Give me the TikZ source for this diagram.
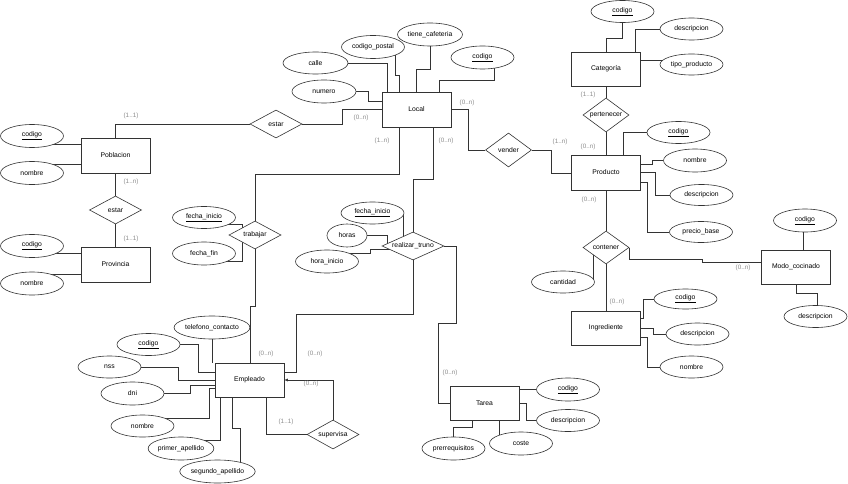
\documentclass[tikz,border=0pt]{standalone}
\usepackage{fontspec}
\setmainfont{Liberation Sans}
\usetikzlibrary{shapes.geometric,arrows.meta}
\pgfdeclarelayer{bg}
\pgfsetlayers{bg,main}
\begin{document}
\begin{tikzpicture}[x=1pt,y=-1pt,
  font=\fontsize{6.8}{8}\selectfont,
  ent/.style={draw=black!80,fill=white,rectangle,minimum width=69pt,minimum height=35pt,inner sep=0pt,line width=0.6pt},
  rel/.style={draw=black!80,fill=white,diamond,inner sep=0pt,line width=0.6pt},
  attr/.style={draw=black!80,fill=white,ellipse,minimum width=63pt,minimum height=23pt,inner sep=0pt,line width=0.6pt},
  card/.style={text=black!45,font=\fontsize{6.3}{7}\selectfont,inner sep=0pt},
  conn/.style={draw=black!80,line width=0.6pt}]
\useasboundingbox (0,0) rectangle (848,484);
% entities
\node[ent] (Poblacion) at (115.5,155.5) {Poblacion};
\node[ent] (Provincia) at (115.5,264.5) {Provincia};
\node[ent] (Local) at (416.5,109.5) {Local};
\node[ent,minimum height=34pt] (Categoria) at (606,69) {Categoría};
\node[ent] (Producto) at (606,172.5) {Producto};
\node[ent,minimum height=34pt] (Ingrediente) at (606,328) {Ingrediente};
\node[ent,minimum height=34pt] (Modo) at (796,267) {Modo\_cocinado};
\node[ent,minimum height=34pt] (Empleado) at (249.5,380) {Empleado};
\node[ent,minimum height=34pt] (Tarea) at (484.5,403) {Tarea};
% relationships
\node[rel,minimum width=52pt,minimum height=28pt] (estar1) at (276,124) {\makebox[0pt]{estar}};
\node[rel,minimum width=52pt,minimum height=28pt] (estar2) at (115.5,210) {\makebox[0pt]{estar}};
\node[rel,minimum width=46pt,minimum height=34pt] (vender) at (508.5,150) {\makebox[0pt]{vender}};
\node[rel,minimum width=46pt,minimum height=34pt] (pertenecer) at (606,115) {\makebox[0pt]{pertenecer}};
\node[rel,minimum width=46pt,minimum height=33pt] (contener) at (606,247.5) {\makebox[0pt]{contener}};
\node[rel,minimum width=52pt,minimum height=28pt] (trabajar) at (255,235) {\makebox[0pt]{trabajar}};
\node[rel,minimum width=62pt,minimum height=28pt] (realizar) at (413,246) {\makebox[0pt]{realizar\_truno}};
\node[rel,minimum width=52pt,minimum height=29pt] (supervisa) at (333,434.5) {\makebox[0pt]{supervisa}};
% attributes
\node[attr] (pobcod) at (32,136) {\underline{codigo}};
\node[attr] (pobnom) at (32,173) {nombre};
\node[attr] (provcod) at (32,246) {\underline{codigo}};
\node[attr] (provnom) at (32,283.5) {nombre};
\node[attr,minimum width=65pt,minimum height=22pt] (calle) at (315.5,63) {calle};
\node[attr,minimum width=64pt] (numero) at (324,91.5) {numero};
\node[attr] (cpostal) at (373,47) {codigo\_postal};
\node[attr,minimum width=65pt] (tcafe) at (430,34.5) {tiene\_cafeteria};
\node[attr] (loccod) at (482.5,57.5) {\underline{codigo}};
\node[attr,minimum height=22pt] (catcod) at (622.5,11.5) {\underline{codigo}};
\node[attr,minimum height=22pt] (catdesc) at (691.5,29) {descripcion};
\node[attr,minimum height=21pt] (tipo) at (691.5,64.5) {tipo\_producto};
\node[attr,minimum height=22pt] (prodcod) at (678.5,132.5) {\underline{codigo}};
\node[attr] (prodnom) at (695,160.5) {nombre};
\node[attr,minimum height=21pt] (proddesc) at (701.5,195) {descripcion};
\node[attr,minimum height=21pt] (precio) at (701,232) {precio\_base};
\node[attr,minimum height=22pt] (cantidad) at (563,282) {cantidad};
\node[attr] (modocod) at (805,220.5) {\underline{codigo}};
\node[attr,minimum height=22pt] (mododesc) at (815.5,316.5) {descripcion};
\node[attr,minimum height=20pt] (ingcod) at (685.5,299) {\underline{codigo}};
\node[attr,minimum height=22pt] (ingdesc) at (697.5,334) {descripcion};
\node[attr,minimum height=22pt] (ingnom) at (691.5,367) {nombre};
\node[attr,minimum height=22pt] (trfi) at (204,217.5) {\underline{fecha\_inicio}};
\node[attr] (trff) at (204,253.5) {fecha\_fin};
\node[attr,minimum height=22pt] (rtfi) at (372.5,213) {\underline{fecha\_inicio}};
\node[attr,minimum width=40pt] (horas) at (347,235.5) {horas};
\node[attr] (horaini) at (327,261.5) {hora\_inicio};
\node[attr] (tel) at (212,327.5) {telefono\_contacto};
\node[attr,minimum height=22pt] (empcod) at (148.5,344.5) {\underline{codigo}};
\node[attr,minimum height=22pt] (nss) at (109.5,367) {nss};
\node[attr] (dni) at (132.5,393.5) {dni};
\node[attr,minimum height=22pt] (empnom) at (142.5,426) {nombre};
\node[attr] (primer) at (181,448.5) {primer\_apellido};
\node[attr,minimum width=65pt] (segundo) at (217.5,471.5) {segundo\_apellido};
\node[attr] (tacod) at (568,389.5) {\underline{codigo}};
\node[attr,minimum height=22pt] (tadesc) at (568,420.5) {descripcion};
\node[attr] (coste) at (521,443.5) {coste};
\node[attr] (prerreq) at (453.5,448.5) {prerrequisitos};
% cardinalities
\node[card] (k1) at (131,116) {(1..1)};
\node[card] (k2) at (361,118) {(0..n)};
\node[card] (k3) at (131,182) {(1..n)};
\node[card] (k4) at (131,239) {(1..1)};
\node[card] (k5) at (467,103) {(0..n)};
\node[card] (k6) at (560,142) {(1..n)};
\node[card] (k7) at (588,95) {(1..1)};
\node[card] (k8) at (588,147) {(0..n)};
\node[card] (k9) at (589,200) {(0..n)};
\node[card] (k10) at (617,302) {(0..n)};
\node[card] (k11) at (743,268) {(0..n)};
\node[card] (k12) at (382,141) {(1..n)};
\node[card] (k13) at (446,141) {(0..n)};
\node[card] (k14) at (266,353.5) {(0..n)};
\node[card] (k15) at (315,353.5) {(0..n)};
\node[card] (k16) at (450,373) {(0..n)};
\node[card] (k17) at (311,384) {(0..n)};
\node[card] (k18) at (286,422) {(1..1)};
% connectors
\begin{pgfonlayer}{bg}
\fill[white] (0,0) rectangle (848,484);
\begin{scope}[conn]
% Poblacion / Provincia
\draw (Poblacion.north) |- (estar1.west);
\draw (estar1.east) -| (342,109.5) -- (Local.west);
\draw (Poblacion.south) -- (estar2.north);
\draw (estar2.south) -- (Provincia.north);
\draw (pobcod |- 0,144) -- (Poblacion.west |- 0,144);
\draw (pobnom |- 0,164) -- (Poblacion.west |- 0,164);
\draw (provcod |- 0,253) -- (Provincia.west |- 0,253);
\draw (provnom |- 0,274) -- (Provincia.west |- 0,274);
% Local attributes
\draw (calle) -| (Local.north -| 387,0);
\draw (numero) -- (368,91.5) |- (Local.west |- 0,101);
\draw (cpostal -| 395,0) -- (395,75) -| (Local.north -| 399,0);
\draw (tcafe) -- (430,69) -| (Local.north -| 416,0);
\draw (loccod -| 494,0) |- (439,80) -- (Local.north -| 439,0);
% Local relations
\draw (Local.east) -| (468,150) -- (vender.west);
\draw (vender.east) -| (551,173) -- (Producto.west |- 0,173);
\draw (Local.south -| 399,0) |- (255,174) -- (trabajar.north);
\draw (trabajar.south) |- (250,306) -- (Empleado.north -| 250,0);
\draw (Local.south -| 433,0) |- (413,179) -- (realizar.north);
\draw (realizar.south) |- (296,314) |- (Empleado.east |- 0,372);
\draw (realizar.east) -| (456,323) -| (438,403) -- (Tarea.west);
\draw[-{Latex[length=3.5pt,width=3pt]}] (supervisa.north) |- (Empleado.east);
\draw (Empleado.south -| 266,0) |- (supervisa.west);
% trabajar / realizar attributes
\draw (225,224) -| (trabajar.center -| 242,0);
\draw (220,261.5) -| (242,238);
\draw (rtfi -| 403,0) -- (403,240);
\draw (horas) -| (387,246);
\draw (350,262) |- (370,253) |- (395,249);
% Empleado attributes
\draw (tel) -- (Empleado.north -| 212,0);
\draw (empcod) -| (198,372) -- (Empleado.west |- 0,372);
\draw (nss) -| (178,380) -- (Empleado.west);
\draw (dni) -| (190,385) -- (Empleado.west |- 0,385);
\draw (150,418) -| (209,388) -- (Empleado.west |- 0,388);
\draw (200,440) -| (Empleado.south -| 220,0);
\draw (segundo -| 240,0) |- (232,428) -- (Empleado.south -| 232,0);
% Tarea attributes
\draw (Tarea.east |- tacod) -- (tacod);
\draw (Tarea.east) -| (526,420.5) -- (tadesc);
\draw (Tarea.south -| 499,0) -- (coste -| 499,0);
\draw (Tarea.south -| 472,0) |- (453.5,427) -- (prerreq);
% Categoria
\draw (catcod) |- (606,38) -- (Categoria.north);
\draw (catdesc) -| (Categoria.north -| 635,0);
\draw (Categoria.east |- 0,60) -- (675,60);
\draw (Categoria.south) -- (pertenecer.north);
\draw (pertenecer.south) -- (Producto.north);
% Producto
\draw (prodcod) -| (Producto.north -| 623,0);
\draw (prodnom) -| (652,164) -- (Producto.east |- 0,164);
\draw (Producto.east) -| (655,195) -- (proddesc);
\draw (Producto.east |- 0,182) -| (647,232) -- (precio);
\draw (Producto.south) -- (contener.north);
\draw (contener.south) -- (Ingrediente.north);
\draw (contener.east) |- (702,259) |- (Modo.west |- 0,262);
\draw (cantidad -| 593,0) -- (593,250);
% Modo_cocinado
\draw (modocod -| 803,0) -- (Modo.north -| 803,0);
\draw (Modo.south) |- (817,293) -- (mododesc -| 817,0);
% Ingrediente
\draw (ingcod) -| (643,318) -- (Ingrediente.east |- 0,318);
\draw (Ingrediente.east) -| (653,334) -- (ingdesc);
\draw (Ingrediente.east |- 0,337) -| (647,367) -- (ingnom);
\end{scope}
\end{pgfonlayer}
\end{tikzpicture}
\end{document}
